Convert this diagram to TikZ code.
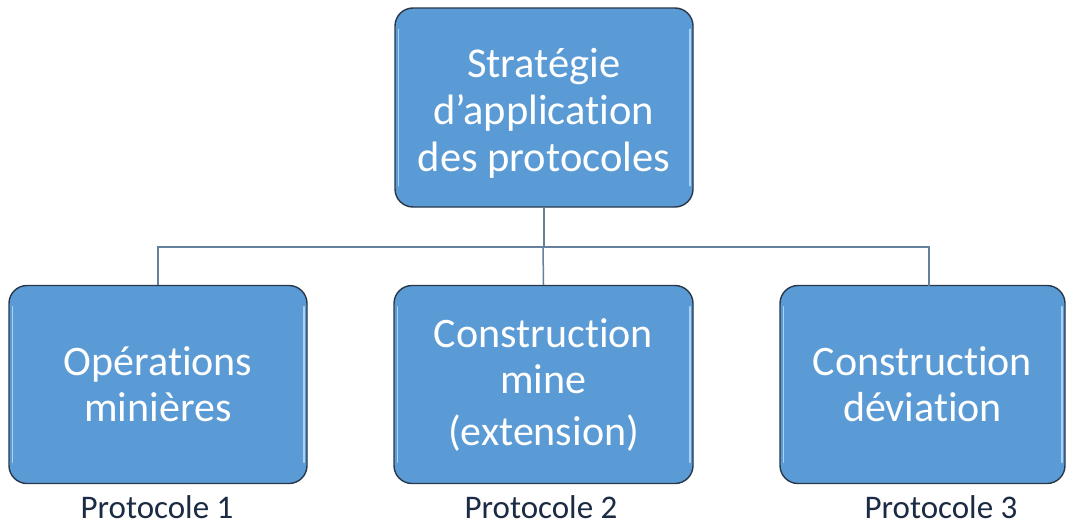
\documentclass[tikz,border=0pt]{standalone}
\usepackage{fontspec}
\setmainfont{Carlito}[Ligatures={NoCommon,NoContextual,NoRequired}]
\usetikzlibrary{calc}
\newcommand{\myti}{t\kern0pt i}
\definecolor{boxblue}{RGB}{91,155,213}
\definecolor{boxedge}{RGB}{40,56,74}
\definecolor{hilite}{RGB}{170,210,245}
\definecolor{connc}{RGB}{100,128,155}
\definecolor{labc}{RGB}{28,43,68}
\tikzset{
  orgbox/.style={draw=boxedge, line width=1.4pt, fill=boxblue, rounded corners=18pt,
    minimum width=298pt, minimum height=198pt, inner sep=0pt, align=center,
    text=white, font=\fontsize{42}{46}\selectfont},
  conn/.style={draw=connc, line width=1.5pt},
  plabel/.style={anchor=base, text=labc, font=\fontsize{33}{38}\selectfont, inner sep=0pt},
  shine/.style={draw=hilite, line width=1.6pt, line cap=round}
}
\begin{document}
\begin{tikzpicture}[x=1pt,y=-1pt]
\useasboundingbox[fill=white] (0,0) rectangle (1068,525);
\node[orgbox, minimum height=199pt, font=\fontsize{42.5}{47}\selectfont] (top) at (544,107.5) {\rule{0pt}{6pt}\\[-12pt]Stratégie\\d’applica\myti on\\des protocoles};
\node[orgbox] (p1) at (158,384.5) {Opéra\myti ons\\minières};
\node[orgbox, minimum width=299pt] (p2) at (543.5,384.5) {Construc\myti on\\mine\\[6pt](extension)};
\node[orgbox, minimum width=285pt] (p3) at (922.5,384.5) {Construc\myti on\\dévia\myti on};
% highlights
\foreach \n in {top,p1,p2,p3}{
  \draw[shine] ($(\n.north west)+(4,22)$) -- ($(\n.south west)+(4,-22)$);
  \draw[shine] ($(\n.north east)+(-4,22)$) -- ($(\n.south east)+(-4,-22)$);
}
% connectors
\coordinate (bus) at (543,247);
\coordinate (p3in) at (929,286);
\draw[conn] (top.south |- top.south) -- (top.south |- bus);
\draw[conn] (bus) -| (p1.north);
\draw[conn] (bus) -- (p2.north);
\draw[conn] (bus) -| (p3in);
% labels
\node[plabel] (l1) at (157,518) {Protocole 1};
\node[plabel] (l2) at (541,518) {Protocole 2};
\node[plabel] (l3) at (941,518) {Protocole 3};
\end{tikzpicture}
\end{document}
